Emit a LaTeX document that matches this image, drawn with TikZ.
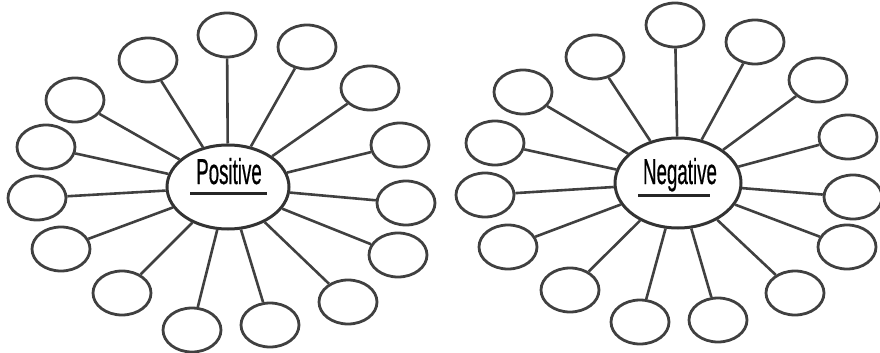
\documentclass[tikz,border=0pt]{standalone}
\usepackage{fontspec}
\setsansfont{Liberation Sans}
\newfontfamily\hubfont[FakeBold=0.8]{Liberation Sans}
\usetikzlibrary{shapes.geometric}

\tikzset{
  bubble/.style={ellipse, draw=black!75, line width=2.8pt, minimum width=58pt, minimum height=44pt, inner sep=0pt},
  hub/.style={ellipse, draw=black!80, line width=3pt, inner sep=0pt},
  spoke/.style={draw=black!75, line width=2.6pt},
  hubtext/.style={anchor=base, inner sep=0pt, font=\hubfont\fontsize{36}{36}\selectfont},
  underbar/.style={draw=black!85, line width=3pt}
}

\begin{document}
\begin{tikzpicture}[x=1pt,y=-1pt]
\useasboundingbox (0,0) rectangle (880,353);

% positive web
\node [hub, minimum width=122pt, minimum height=84pt] (pos) at (228,187) {};
\node [hubtext] (poslabel) at (229,184) {\scalebox{0.52}[1]{Positive}};
\draw [underbar] (190,193) -- (267,193);
\foreach \x/\y [count=\i] in {227/35, 307/47, 370/88, 400/145, 406/203, 398/255,
    348/302, 270/325, 192/330, 122/293, 61/249, 37/198, 46/147, 75/100, 148/60}
{
  \node [bubble] (pos-\i) at (\x,\y) {};
  \draw [spoke] (pos) -- (pos-\i);
}

% negative web
\node [hub, minimum width=126pt, minimum height=90pt] (neg) at (678,183) {};
\node [hubtext] (neglabel) at (680,184) {\scalebox{0.52}[1]{Negative}};
\draw [underbar] (638,195) -- (710,195);
\foreach \x/\y [count=\i] in {675/25, 755/42, 818/80, 848/137, 853/197, 847/247,
    795/293, 718/320, 640/322, 570/290, 508/247, 485/195, 495/143, 523/92, 595/57}
{
  \node [bubble] (neg-\i) at (\x,\y) {};
  \draw [spoke] (neg) -- (neg-\i);
}
\end{tikzpicture}
\end{document}
